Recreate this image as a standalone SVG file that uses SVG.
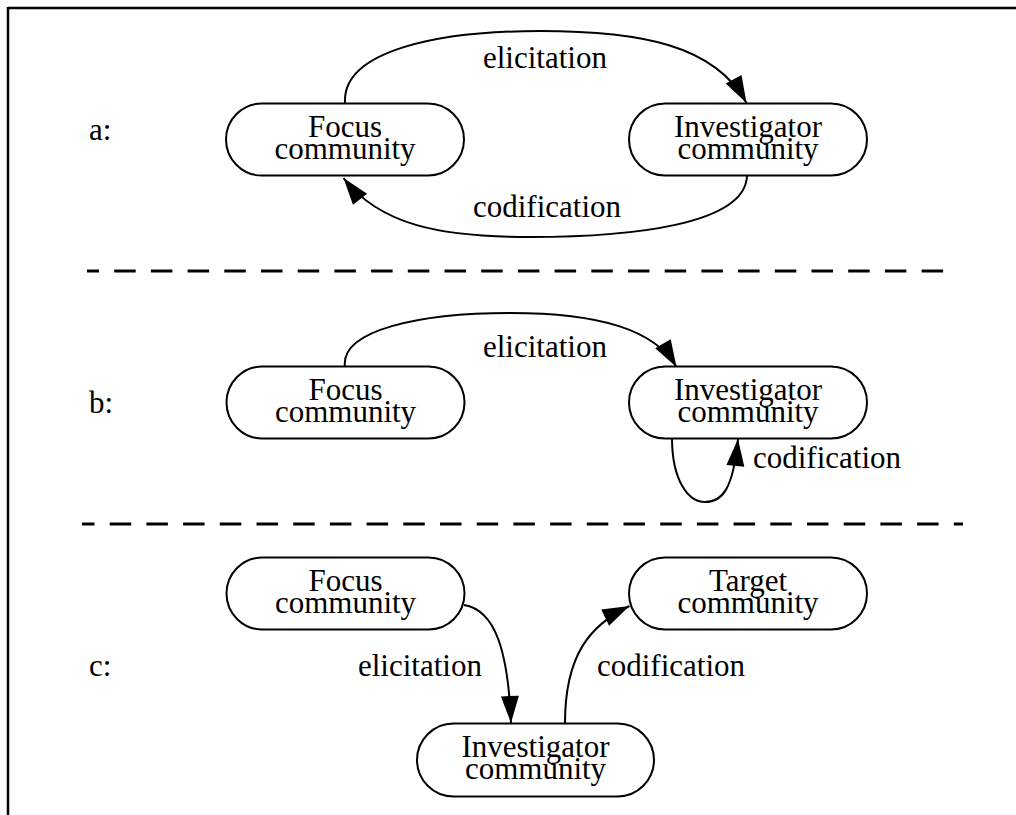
<svg xmlns="http://www.w3.org/2000/svg" width="1016" height="815" viewBox="0 0 1016 815">
<style>
.t{font-family:"Liberation Serif","Times New Roman",serif;font-size:31px;fill:#000}
.nt{font-family:"Liberation Serif","Times New Roman",serif;font-size:31px;fill:#000;text-anchor:middle}
.n{fill:#fff;stroke:#000;stroke-width:2}
.e{fill:none;stroke:#000;stroke-width:2}
.d{stroke:#000;stroke-width:3;stroke-dasharray:21.5 15.2}
</style>
<defs>
<marker id="ah" markerUnits="userSpaceOnUse" markerWidth="30" markerHeight="20" viewBox="-28 -10 30 20" refX="0" refY="0" orient="auto">
<path d="M0,0 L-27,-9 L-27,9 Z" fill="#000"/>
</marker>
</defs>
<rect width="1016" height="815" fill="#fff"/>
<g id="frame">
<line x1="8" y1="8" x2="1016" y2="8" stroke="#000" stroke-width="2.5"/>
<line x1="8" y1="7" x2="8" y2="815" stroke="#000" stroke-width="2.5"/>
<line class="d" x1="87" y1="271" x2="949" y2="271" stroke-dashoffset="9.5"/>
<line class="d" x1="82" y1="524" x2="963" y2="524" stroke-dashoffset="9"/>
</g>
<g id="labels">
<text class="t" x="89" y="140">a:</text>
<text class="t" x="89" y="413">b:</text>
<text class="t" x="89" y="676">c:</text>
</g>
<g id="connectors">
<path class="e" d="M345,103 C342,50 440,31 540,31 C640,31 715,45 746.5,103" marker-end="url(#ah)"/>
<path class="e" d="M747,176 C745,225 630,237 530,237 C440,237 380,225 343.5,178" marker-end="url(#ah)"/>
<path class="e" d="M345,367 C340,330 420,313 510,313 C600,313 655,330 676.5,367" marker-end="url(#ah)"/>
<path class="e" d="M672,438 C672,480 688,502 705,502 C722,502 733,490 738,439" marker-end="url(#ah)"/>
<path class="e" d="M464,605 C495,610 508,650 511,723" marker-end="url(#ah)"/>
<path class="e" d="M565,723 C565,655 590,625 629.5,606" marker-end="url(#ah)"/>
<text class="t" x="483" y="68">elicitation</text>
<text class="t" x="473" y="217">codification</text>
<text class="t" x="483" y="357">elicitation</text>
<text class="t" x="753" y="468">codification</text>
<text class="t" x="358" y="676">elicitation</text>
<text class="t" x="597" y="676">codification</text>
</g>
<g id="a-focus">
<rect class="n" x="226" y="103.5" width="238" height="72" rx="36"/>
<text class="nt" x="345" y="136.5">Focus<tspan x="345" dy="22">community</tspan></text>
</g>
<g id="a-investigator">
<rect class="n" x="629" y="103.5" width="238" height="72" rx="36"/>
<text class="nt" x="748" y="136.5">Investigator<tspan x="748" dy="22">community</tspan></text>
</g>
<g id="b-focus">
<rect class="n" x="226.5" y="366.5" width="238" height="72" rx="36"/>
<text class="nt" x="345.5" y="399.5">Focus<tspan x="345.5" dy="22">community</tspan></text>
</g>
<g id="b-investigator">
<rect class="n" x="629" y="366.5" width="238" height="72" rx="36"/>
<text class="nt" x="748" y="399.5">Investigator<tspan x="748" dy="22">community</tspan></text>
</g>
<g id="c-focus">
<rect class="n" x="226.5" y="557.5" width="238" height="72" rx="36"/>
<text class="nt" x="345.5" y="590.5">Focus<tspan x="345.5" dy="22">community</tspan></text>
</g>
<g id="c-target">
<rect class="n" x="629" y="557.5" width="238" height="72" rx="36"/>
<text class="nt" x="748" y="590.5">Target<tspan x="748" dy="22">community</tspan></text>
</g>
<g id="c-investigator">
<rect class="n" x="417" y="723.5" width="237" height="73" rx="36.5"/>
<text class="nt" x="535.5" y="757">Investigator<tspan x="535.5" dy="22">community</tspan></text>
</g>
</svg>
